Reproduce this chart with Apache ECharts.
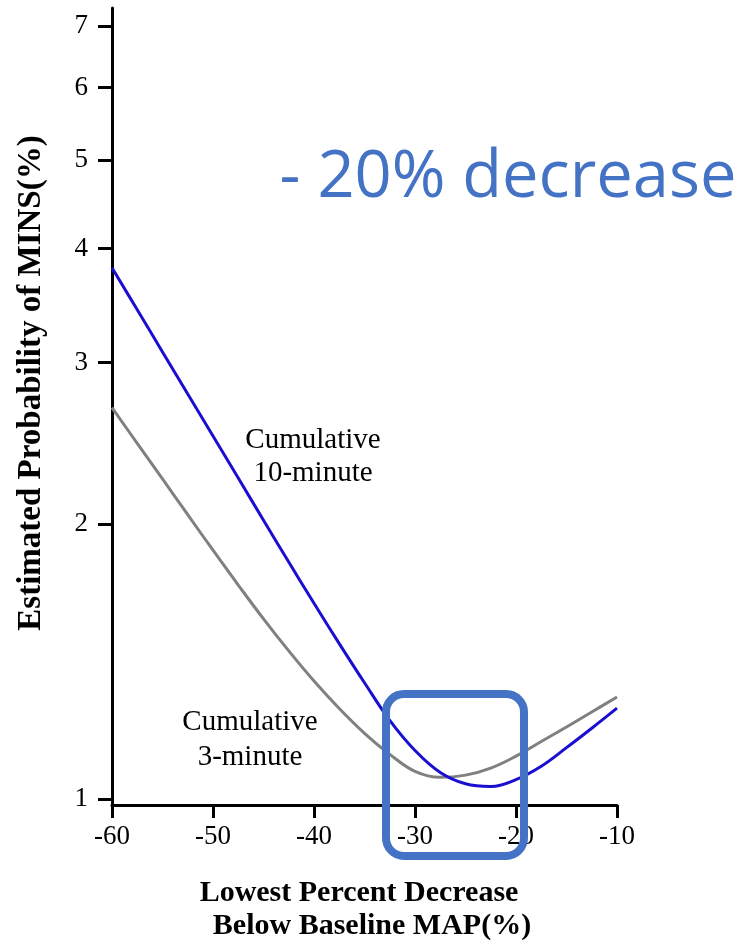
<!DOCTYPE html>
<html>
<head>
<meta charset="utf-8">
<script src="https://cdn.jsdelivr.net/npm/echarts@6/dist/echarts.min.js"></script>
<style>html,body{margin:0;padding:0;background:#fff}#c{width:745px;height:947px}</style>
</head>
<body>
<div id="c"></div>
<script>
const xValues = [-60,-57.5,-55,-52.5,-50,-47.5,-45,-42.5,-40,-37.5,-35,-32.5,-30,-27.5,-25,-22.5,-20,-17.5,-15,-12.5,-10];
const cum10 = [3.811,3.428,3.083,2.773,2.495,2.244,2.018,1.816,1.637,1.479,1.340,1.219,1.130,1.069,1.039,1.032,1.050,1.086,1.138,1.195,1.257];
const cum3 = [2.679,2.449,2.239,2.046,1.871,1.714,1.574,1.452,1.346,1.256,1.180,1.119,1.072,1.056,1.062,1.081,1.114,1.156,1.199,1.245,1.293];
const xTicks = [-60,-50,-40,-30,-20,-10];
const yTicks = [1,2,3,4,5,6,7];

const chart = echarts.init(document.getElementById('c'));
const serif = '"Liberation Serif","Times New Roman",serif';
chart.setOption({
  animation: false,
  grid: {left: 112, right: 128, top: 8, bottom: 142, containLabel: false},
  xAxis: {
    type: 'value', min: -60, max: -10, interval: 10,
    axisLine: {show: true, onZero: false, lineStyle: {color: '#000', width: 3}},
    axisTick: {show: true, length: 13, inside: false, customValues: xTicks, lineStyle: {color: '#000', width: 3}},
    axisLabel: {color: '#000', fontFamily: serif, fontSize: 27, margin: 18, customValues: xTicks},
    splitLine: {show: false}
  },
  yAxis: {
    type: 'log', logBase: 10, min: 0.985, max: 7.33,
    axisLine: {show: true, lineStyle: {color: '#000', width: 3}},
    axisTick: {show: true, length: 14, customValues: yTicks, lineStyle: {color: '#000', width: 3}},
    axisLabel: {color: '#000', fontFamily: serif, fontSize: 27, margin: 24, customValues: yTicks},
    splitLine: {show: false}
  },
  series: [
    {type: 'line', data: xValues.map((x,i)=>[x,cum3[i]]), smooth: 0.4, showSymbol: false,
     lineStyle: {color: '#808080', width: 3}},
    {type: 'line', data: xValues.map((x,i)=>[x,cum10[i]]), smooth: 0.4, showSymbol: false,
     lineStyle: {color: '#1a0fd0', width: 3}}
  ],
  graphic: [
    {type: 'text', style: {text: 'Cumulative\n10-minute', x: 313, y: 457, fill: '#000', font: '29px ' + serif, textAlign: 'center', textVerticalAlign: 'middle', lineHeight: 33}},
    {type: 'text', style: {text: 'Cumulative\n3-minute', x: 250, y: 740, fill: '#000', font: '29px ' + serif, textAlign: 'center', textVerticalAlign: 'middle', lineHeight: 35}},
    {type: 'text', style: {text: '- 20% decrease', x: 508, y: 178, fill: '#4472C4', font: '65px "Open Sans", sans-serif', textAlign: 'center', textVerticalAlign: 'middle'}},
    {type: 'rect', shape: {x: 386, y: 694, width: 138, height: 162, r: 18}, style: {fill: 'none', stroke: '#4472C4', lineWidth: 8}, z: 100},
    {type: 'text', rotation: Math.PI/2, x: 31, y: 383, style: {text: 'Estimated Probability of MINS(%)', x: 0, y: 0, fill: '#000', font: 'bold 33px ' + serif, textAlign: 'center', textVerticalAlign: 'middle'}},
    {type: 'text', style: {text: 'Lowest Percent Decrease', x: 359, y: 893, fill: '#000', font: 'bold 30px ' + serif, textAlign: 'center', textVerticalAlign: 'middle'}},
    {type: 'text', style: {text: 'Below Baseline MAP(%)', x: 372, y: 926, fill: '#000', font: 'bold 30px ' + serif, textAlign: 'center', textVerticalAlign: 'middle'}}
  ]
});
</script>
</body>
</html>
